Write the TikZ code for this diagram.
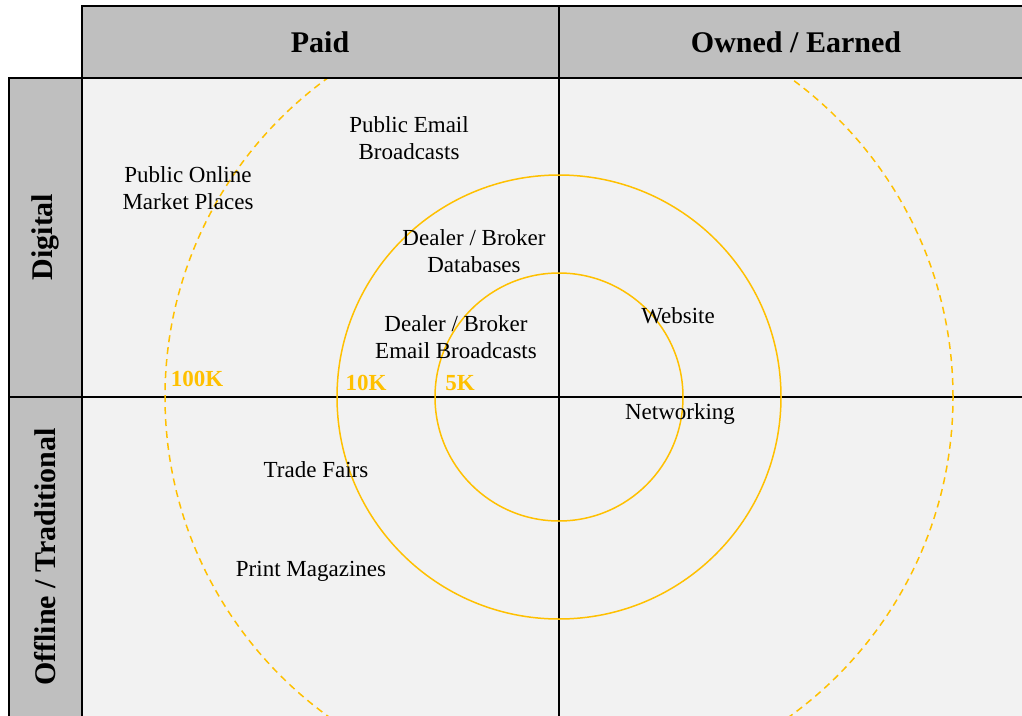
\documentclass[tikz,border=0pt]{standalone}
\usepackage{fontspec}
\setmainfont{Liberation Serif}

\definecolor{headgray}{HTML}{BFBFBF}
\definecolor{fieldgray}{HTML}{F2F2F2}
\definecolor{ringgold}{HTML}{FFC000}

\tikzset{
    channel/.style={align=center, inner sep=0pt, font=\fontsize{23}{27}\selectfont},
    head/.style={inner sep=0pt, font=\fontsize{30}{34}\selectfont\bfseries},
    ring/.style={ringgold, line width=1.5pt},
    reach/.style={ringgold, inner sep=0pt, font=\fontsize{23}{25}\selectfont\bfseries}
}

\begin{document}
\begin{tikzpicture}[x=1pt, y=-1pt]
            \useasboundingbox (0,0) rectangle (1022,715);
            % quadrant field and header bars (they run on past the page edge)
            \fill[fieldgray] (82,78) rectangle (1030,725);
            \draw[line width = 2pt, fill=headgray] (82,6) rectangle (1030,78);
            \draw[line width = 2pt, fill=headgray] (9,78) rectangle (82,725);
            \draw[line width = 1.5pt] (559,6) -- (559,725);
            \draw[line width = 1.5pt] (9,397) -- (1030,397);

            \node[head] (paid) at (320,42) {Paid};
            \node[head] (owned) at (796,42) {Owned / Earned};
            \node[head, rotate=90] (digital) at (45,237) {Digital};
            \node[head, rotate=90] (offline) at (45,557) {Offline / Traditional};

            % reach rings
            \draw[ring] (559,397) circle (124pt);
            \draw[ring] (559,397) circle (222pt);
            \begin{scope}
                \clip (83,79) rectangle (1030,725);
                \draw[ring, dash pattern=on 7pt off 5pt] (559,397) circle (394pt);
            \end{scope}
            \node[reach] (r100) at (197,379) {100K};
            \node[reach] (r10) at (366,383) {10K};
            \node[reach] (r5) at (460,383) {5K};

            %\node[channel] at (0,0) {};
            \node[channel] (online) at (188,188) {Public Online\\Market Places};
            \node[channel] (email) at (409,138) {Public Email\\Broadcasts};
            \node[channel] (dbs) at (474,251) {Dealer / Broker\\Databases};
            \node[channel] (dbemail) at (456,337) {Dealer / Broker\\Email Broadcasts};
            \node[channel] (web) at (678,316) {Website};
            \node[channel] (network) at (680,414) {Networking};
            \node[channel] (fairs) at (316,470) {Trade Fairs};
            \node[channel] (print) at (311,571) {Print Magazines};
        \end{tikzpicture}
\end{document}
